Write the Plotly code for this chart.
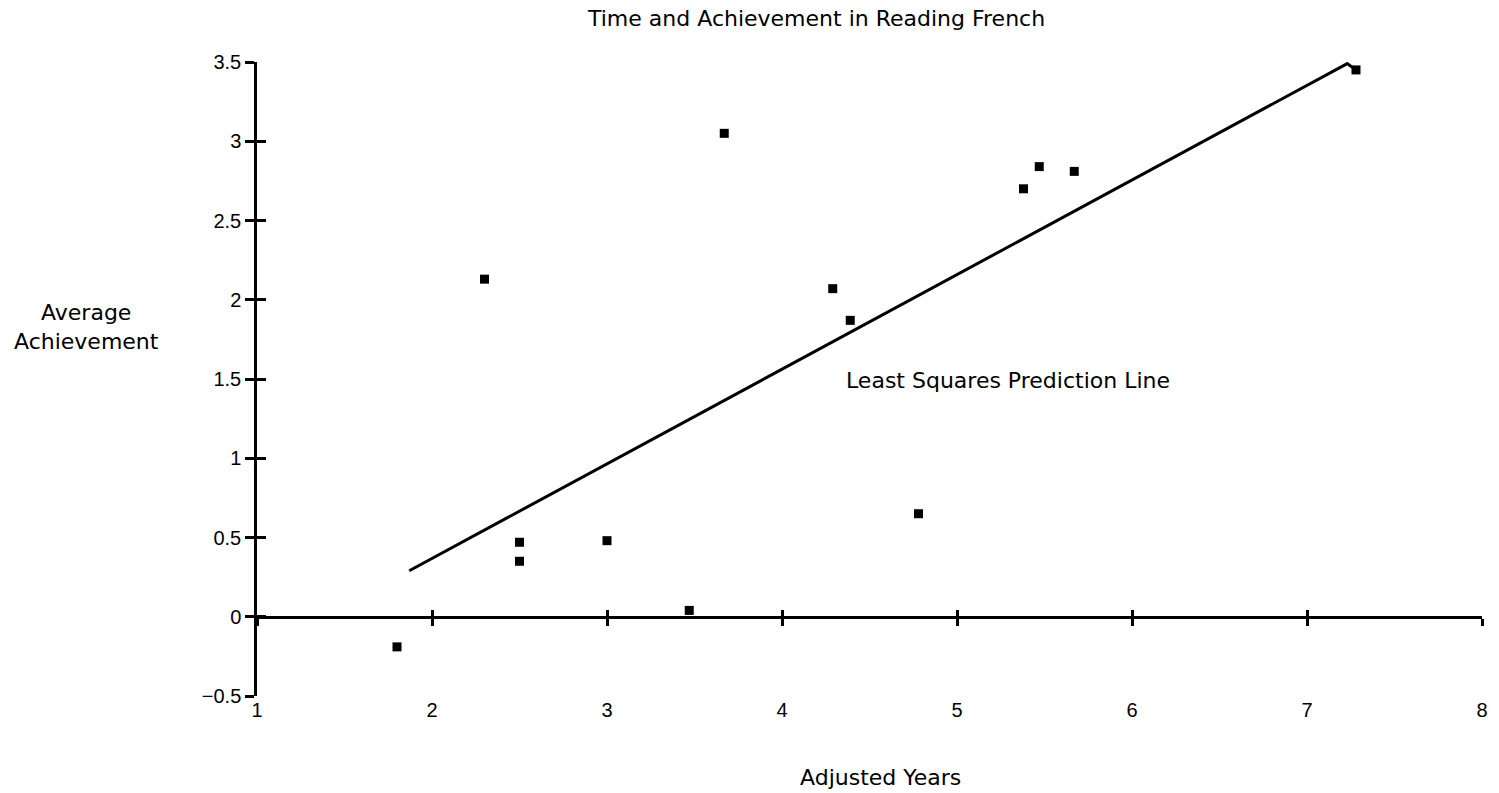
import plotly.graph_objects as go

# Data
years = [1.8, 2.3, 2.5, 2.5, 3.0, 3.47, 3.67, 4.29, 4.39, 4.78, 5.38, 5.47, 5.67, 7.28]
achievement = [-0.19, 2.13, 0.47, 0.35, 0.48, 0.04, 3.05, 2.07, 1.87, 0.65, 2.70, 2.84, 2.81, 3.45]

line_x = [1.87, 7.23, 7.28]
line_y = [0.29, 3.49, 3.45]

x_ticks = [1, 2, 3, 4, 5, 6, 7, 8]
y_ticks = [-0.5, 0, 0.5, 1, 1.5, 2, 2.5, 3, 3.5]
y_tick_text = ["\u22120.5", "0", "0.5", "1", "1.5", "2", "2.5", "3", "3.5"]

TICK_FONT = "Liberation Sans, Arial, sans-serif"
TEXT_FONT = "DejaVu Sans, sans-serif"

fig = go.Figure()
fig.add_trace(go.Scatter(x=line_x, y=line_y, mode="lines",
                         line=dict(color="black", width=3), hoverinfo="skip"))
fig.add_trace(go.Scatter(x=years, y=achievement, mode="markers",
                         marker=dict(symbol="square", size=9, color="black")))
# invisible traces so the overlay axes render
for ax in ["x2", "x3"]:
    fig.add_trace(go.Scatter(x=years, y=achievement, mode="markers", xaxis=ax,
                             marker=dict(opacity=0), hoverinfo="skip"))
fig.add_trace(go.Scatter(x=years, y=achievement, mode="markers", yaxis="y2",
                         marker=dict(opacity=0), hoverinfo="skip"))

y_range = [-0.5, 3.5]
zero_pos = (0 - y_range[0]) / (y_range[1] - y_range[0])

fig.update_layout(
    width=1499, height=793,
    margin=dict(l=257, r=17, t=62, b=97),
    plot_bgcolor="white", paper_bgcolor="white",
    showlegend=False,
    font=dict(family=TICK_FONT, size=20, color="black"),
    xaxis=dict(range=[1, 8], tickvals=x_ticks, showline=False, showgrid=False,
               zeroline=False, ticks="", ticklen=0,
               tickfont=dict(size=20, family=TICK_FONT)),
    xaxis2=dict(range=[1, 8], overlaying="x", anchor="free", position=zero_pos,
                tickvals=x_ticks, showticklabels=False, showline=True,
                linecolor="black", linewidth=2.5, ticks="outside", ticklen=7,
                tickwidth=2.5, tickcolor="black", showgrid=False, zeroline=False),
    xaxis3=dict(range=[1, 8], overlaying="x", anchor="free", position=zero_pos,
                tickvals=x_ticks, showticklabels=False, showline=False,
                ticks="inside", ticklen=7, tickwidth=2.5, tickcolor="black",
                showgrid=False, zeroline=False),
    yaxis=dict(range=y_range, tickvals=y_ticks, ticktext=y_tick_text,
               showline=True, linecolor="black", linewidth=2.5,
               ticks="outside", ticklen=9, tickwidth=2.5, tickcolor="black",
               showgrid=False, zeroline=False,
               tickfont=dict(size=20, family=TICK_FONT)),
    yaxis2=dict(range=y_range, overlaying="y", side="left", tickvals=y_ticks,
                showticklabels=False, showline=False, ticks="inside", ticklen=9,
                tickwidth=2.5, tickcolor="black", showgrid=False, zeroline=False),
    annotations=[
        dict(text="Time and Achievement in Reading French", xref="paper", yref="paper",
             x=0.456, y=1.069, xanchor="center", yanchor="middle", showarrow=False,
             font=dict(size=22, family=TEXT_FONT)),
        dict(text="Average<br>Achievement", xref="paper", yref="paper",
             x=-0.139, y=0.582, xanchor="center", yanchor="middle", showarrow=False,
             font=dict(size=22, family=TEXT_FONT)),
        dict(text="Adjusted Years", xref="paper", yref="paper",
             x=0.509, y=-0.128, xanchor="center", yanchor="middle", showarrow=False,
             font=dict(size=22, family=TEXT_FONT)),
        dict(text="Least Squares Prediction Line", xref="x", yref="y",
             x=5.29, y=1.49, xanchor="center", yanchor="middle", showarrow=False,
             font=dict(size=22, family=TEXT_FONT)),
    ],
)

fig.write_html("out.html")
